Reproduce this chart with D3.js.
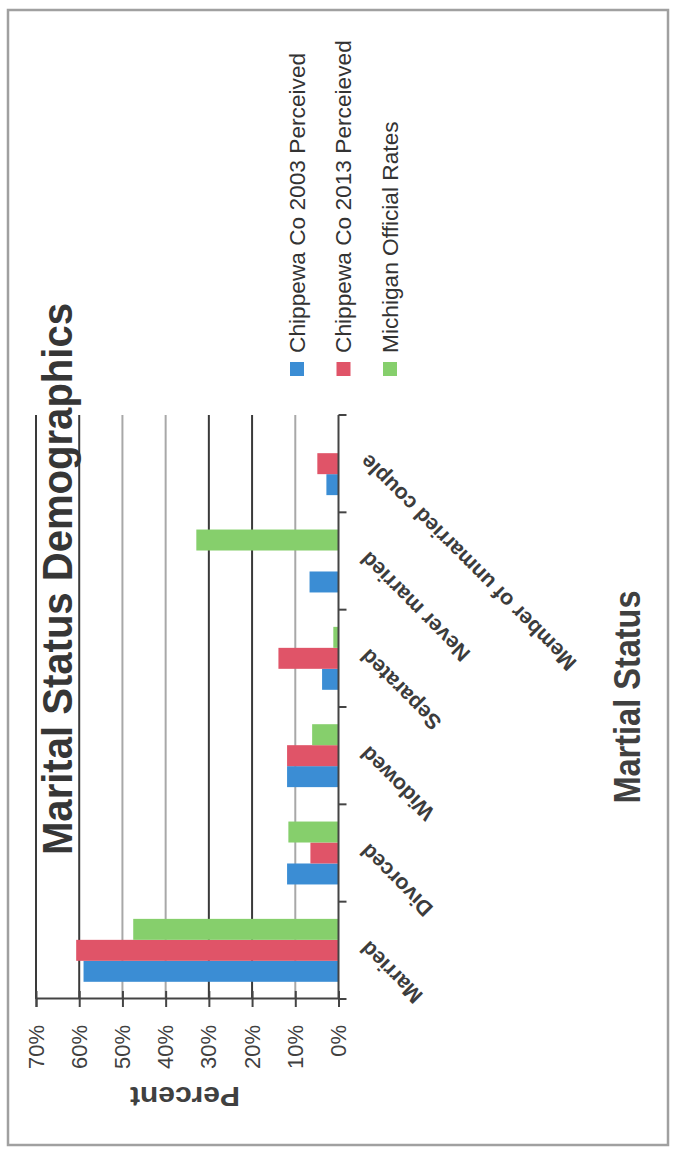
<!DOCTYPE html>
<html><head><meta charset="utf-8">
<script src="https://cdn.jsdelivr.net/npm/d3@7"></script>
<style>html,body{margin:0;padding:0;background:#fff;} svg{display:block;}</style>
</head><body>
<svg id="chart" width="678" height="1152"></svg>
<script>
// ---- data ----
const categories = ["Married", "Divorced", "Widowed", "Separated", "Never married", "Member of unmarried couple"];
const seriesNames = ["Chippewa Co 2003 Perceived", "Chippewa Co 2013 Perceieved", "Michigan Official Rates"];
const chippewa2003 = [59, 11.9, 11.9, 3.8, 6.7, 2.8];
const chippewa2013 = [60.7, 6.5, 11.9, 13.9, 0, 4.9];
const michigan = [47.5, 11.6, 6.1, 1.2, 32.9, 0];
const tickValues = [0, 10, 20, 30, 40, 50, 60, 70];
const tickLabels = ["0%", "10%", "20%", "30%", "40%", "50%", "60%", "70%"];
const titleText = "Marital Status Demographics";
const xTitle = "Martial Status";
const yTitle = "Percent";

// ---- styles ----
const colors = ["#3b8dd4", "#e05468", "#86cf6c"];
const darkGrid = new Set([70, 60, 30, 20]);
const FONT = "'Liberation Sans', Arial, sans-serif";

const seriesValues = [chippewa2003, chippewa2013, michigan];

const svg = d3.select("#chart");
svg.append("rect").attr("width", 678).attr("height", 1152).attr("fill", "#fff");

// The scanned chart is rotated 90deg counter-clockwise; draw it in its own frame
const g = svg.append("g").attr("transform", "translate(0,1152) rotate(-90)");
// frame coords: width 1152, height 678

g.append("rect").attr("x", 7).attr("y", 8).attr("width", 1135).attr("height", 660)
  .attr("fill", "none").attr("stroke", "#a0a0a0").attr("stroke-width", 2.5);

const x0 = d3.scaleBand().domain(categories).range([153, 737]);
const x1 = d3.scaleBand().domain(seriesNames).range([0, x0.bandwidth()]).paddingOuter(0.82);
const y = d3.scaleLinear().domain([0, 70]).range([338.5, 36]);

// gridlines
g.append("g").selectAll("line").data(tickValues.filter(t => t > 0)).join("line")
  .attr("x1", 153).attr("x2", 737)
  .attr("y1", d => y(d)).attr("y2", d => y(d))
  .attr("stroke", d => darkGrid.has(d) ? "#3a3a3a" : "#a8a8a8")
  .attr("stroke-width", 2);

// bars
const rows = categories.map((c, i) => ({ c, vals: seriesValues.map((s, k) => ({ k, name: seriesNames[k], v: s[i] })) }));
const groups = g.append("g").selectAll("g").data(rows).join("g")
  .attr("transform", d => `translate(${x0(d.c)},0)`);
groups.selectAll("rect").data(d => d.vals.filter(v => v.v > 0)).join("rect")
  .attr("x", d => x1(d.name))
  .attr("width", x1.bandwidth())
  .attr("y", d => y(d.v))
  .attr("height", d => y(0) - y(d.v))
  .attr("fill", d => colors[d.k]);

// value axis
const yAxis = d3.axisLeft(y).tickValues(tickValues)
  .tickFormat((d, i) => tickLabels[i]).tickSize(8).tickPadding(18);
const ya = g.append("g").attr("transform", "translate(153,0)").call(yAxis);
ya.select(".domain").attr("stroke", "#444").attr("stroke-width", 2);
ya.selectAll(".tick line").attr("x1", -8).attr("x2", 8).attr("stroke", "#444").attr("stroke-width", 2);
ya.selectAll(".tick text").attr("font-family", FONT).attr("font-size", 22).attr("fill", "#404040");

// category axis
const edges = categories.map(c => x0(c)).concat([x0.range()[1]]);
const xa = g.append("g").attr("transform", `translate(0,${y(0)})`);
xa.append("line").attr("x1", 153).attr("x2", 737).attr("stroke", "#444").attr("stroke-width", 2);
xa.selectAll("line.tk").data(edges).join("line").attr("class", "tk")
  .attr("x1", d => d).attr("x2", d => d).attr("y1", 0).attr("y2", 8)
  .attr("stroke", "#444").attr("stroke-width", 2);
xa.selectAll("text").data(categories).join("text")
  .attr("transform", d => `translate(${x0(d) + x0.bandwidth() / 2},20) rotate(-45)`)
  .attr("text-anchor", "end").attr("dy", "0.7em")
  .attr("font-family", FONT).attr("font-weight", "bold").attr("font-size", 21.5).attr("fill", "#3c3c3c")
  .text(d => d);

// titles
g.append("text").attr("x", 573).attr("y", 72).attr("text-anchor", "middle")
  .attr("font-family", FONT).attr("font-weight", "bold").attr("font-size", 42).attr("fill", "#363636")
  .attr("textLength", 552).attr("lengthAdjust", "spacingAndGlyphs").text(titleText);

g.append("text").attr("x", 455).attr("y", 640).attr("text-anchor", "middle")
  .attr("font-family", FONT).attr("font-weight", "bold").attr("font-size", 36).attr("fill", "#404040")
  .attr("textLength", 213).attr("lengthAdjust", "spacingAndGlyphs").text(xTitle);

g.append("text").attr("transform", "translate(65,185) rotate(-90)").attr("text-anchor", "middle")
  .attr("font-family", FONT).attr("font-weight", "bold").attr("font-size", 28).attr("fill", "#404040")
  .attr("textLength", 110).attr("lengthAdjust", "spacingAndGlyphs").text(yTitle);

// legend
const leg = g.append("g").selectAll("g").data(seriesNames).join("g")
  .attr("transform", (d, i) => `translate(776,${290 + i * 46.5})`);
leg.append("rect").attr("width", 14).attr("height", 14).attr("fill", (d, i) => colors[i]);
leg.append("text").attr("x", 23).attr("y", 14.5)
  .attr("font-family", FONT).attr("font-size", 22.7).attr("fill", "#333").text(d => d);
</script>
</body></html>
